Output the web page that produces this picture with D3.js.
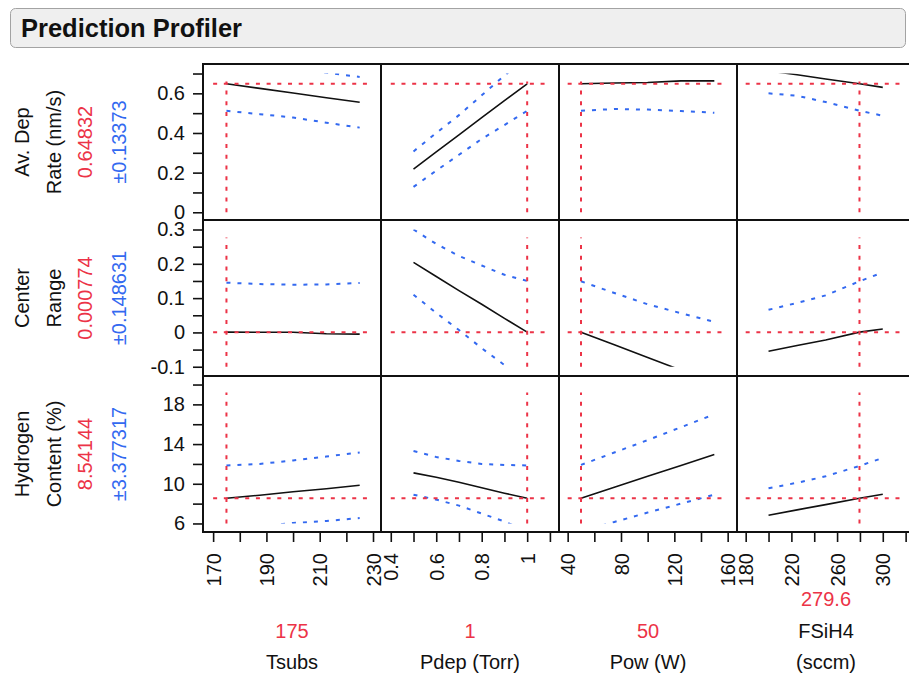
<!DOCTYPE html>
<html lang="en">
<head>
<meta charset="utf-8">
<title>Prediction Profiler</title>
<script src="https://cdn.jsdelivr.net/npm/d3@7"></script>
<style>
  body { margin: 0; background: #fff; }
  svg text { font-family: "Liberation Sans", Arial, Helvetica, sans-serif; }
</style>
</head>
<body>
<svg id="svg"></svg>
<script>
// ---------------------------------------------------- data
// factors (columns)
var factorNames = [["Tsubs"], ["Pdep (Torr)"], ["Pow (W)"], ["FSiH4", "(sccm)"]];
var factorCurrent = [175, 1, 50, 279.6];
var factorCurrentLabel = ["175", "1", "50", "279.6"];
var factorDomain = [[166.2, 233], [0.357, 1.14], [33.5, 167], [172.4, 328.2]];
var factorTickLabels = [[170, 190, 210, 230], [0.4, 0.6, 0.8, 1], [40, 80, 120, 160], [180, 220, 260, 300]];
var factorTicks = [
  [170, 180, 190, 200, 210, 220, 230],
  [0.4, 0.5, 0.6, 0.7, 0.8, 0.9, 1.0, 1.1],
  [40, 60, 80, 100, 120, 140, 160],
  [180, 200, 220, 240, 260, 280, 300, 320]
];

// responses (rows)
var responseNames = [["Av. Dep", "Rate (nm/s)"], ["Center", "Range"], ["Hydrogen", "Content (%)"]];
var responseCurrent = [0.64832, 0.000774, 8.54144];
var responseCurrentLabel = ["0.64832", "0.000774", "8.54144"];
var responseCI = ["\u00b10.13373", "\u00b10.148631", "\u00b13.377317"];
var responseDomain = [[-0.039, 0.748], [-0.127, 0.3277], [5.14, 20.86]];
var responseTickLabels = [[0, 0.2, 0.4, 0.6], [-0.1, 0, 0.1, 0.2, 0.3], [6, 10, 14, 18]];
var responseTicks = [
  [0, 0.1, 0.2, 0.3, 0.4, 0.5, 0.6, 0.7],
  [-0.1, -0.05, 0, 0.05, 0.1, 0.15, 0.2, 0.25, 0.3],
  [6, 8, 10, 12, 14, 16, 18, 20]
];

// factor settings where the profile traces were read
var tsubsGrid = [175, 187.5, 200, 212.5, 225];
var pdepGrid = [0.5, 0.6, 0.7, 0.8, 0.9, 1.0];
var powGrid = [50, 75, 100, 125, 150];
var fsih4Grid = [200, 225, 250, 279.6, 300];
var grids = [tsubsGrid, pdepGrid, powGrid, fsih4Grid];

// Av. Dep Rate: prediction, lower / upper limits (per factor)
var depRatePred = [
  [0.648, 0.625, 0.602, 0.578, 0.555],
  [0.218, 0.305, 0.390, 0.478, 0.563, 0.648],
  [0.648, 0.652, 0.655, 0.663, 0.663],
  [0.713, 0.694, 0.672, 0.648, 0.630]
];
var depRateLower = [
  [0.512, 0.495, 0.478, 0.452, 0.427],
  [0.128, 0.210, 0.290, 0.370, 0.440, 0.512],
  [0.512, 0.521, 0.518, 0.511, 0.502],
  [0.600, 0.588, 0.556, 0.512, 0.487]
];
var depRateUpper = [
  [0.784, 0.755, 0.726, 0.704, 0.683],
  [0.307, 0.400, 0.490, 0.590, 0.690, 0.782],
  [0.784, 0.783, 0.792, 0.815, 0.824],
  [0.826, 0.800, 0.788, 0.784, 0.773]
];

// Center Range
var rangePred = [
  [0.0008, 0.0006, 0.0004, -0.004, -0.005],
  [0.204, 0.163, 0.122, 0.082, 0.041, 0.0008],
  [0.0008, -0.036, -0.073, -0.110, -0.146],
  [-0.055, -0.038, -0.022, 0.0008, 0.010]
];
var rangeLower = [
  [-0.144, -0.140, -0.138, -0.148, -0.154],
  [0.110, 0.057, 0.007, -0.046, -0.095, -0.149],
  [-0.147, -0.187, -0.228, -0.276, -0.323],
  [-0.176, -0.162, -0.152, -0.148, -0.155]
];
var rangeUpper = [
  [0.145, 0.141, 0.139, 0.140, 0.144],
  [0.300, 0.258, 0.223, 0.195, 0.168, 0.150],
  [0.149, 0.115, 0.082, 0.056, 0.031],
  [0.066, 0.086, 0.108, 0.149, 0.175]
];

// Hydrogen Content
var hydroPred = [
  [8.54, 8.85, 9.2, 9.5, 9.85],
  [11.1, 10.65, 10.15, 9.6, 9.05, 8.54],
  [8.54, 9.65, 10.75, 11.85, 12.95],
  [6.83, 7.37, 7.9, 8.54, 8.95]
];
var hydroLower = [
  [5.23, 5.7, 6.05, 6.25, 6.55],
  [8.9, 8.4, 7.8, 7.0, 6.2, 5.2],
  [5.2, 6.15, 7.1, 8.0, 8.9],
  [4.1, 4.64, 5.05, 5.28, 5.3]
];
var hydroUpper = [
  [11.85, 12.0, 12.35, 12.75, 13.15],
  [13.3, 12.7, 12.3, 12.0, 11.9, 11.85],
  [11.9, 13.15, 14.4, 15.7, 17.0],
  [9.55, 10.1, 10.75, 11.8, 12.6]
];

var preds = [depRatePred, rangePred, hydroPred];
var lowers = [depRateLower, rangeLower, hydroLower];
var uppers = [depRateUpper, rangeUpper, hydroUpper];

// ---------------------------------------------------- layout
var W = 909, H = 675;
var gridLeft = 203, gridTop = 64, cellW = 178, cellH = 156;
var RED = "#ec3347", BLUE = "#3369f0";

var svg = d3.select("svg#svg")
    .attr("width", W)
    .attr("height", H);

// - title bar
svg.append("rect")
    .attr("x", 10.5).attr("y", 8.5)
    .attr("width", 895).attr("height", 39)
    .attr("rx", 5)
    .attr("fill", "#efefef")
    .attr("stroke", "#a3a3a3");
svg.append("text")
    .attr("x", 21).attr("y", 37)
    .attr("font-size", 25.5)
    .attr("font-weight", "bold")
    .attr("fill", "#111")
    .text("Prediction Profiler");

var defs = svg.append("defs");

function fmt(v) { return String(+v.toFixed(4)); }

function draw_cell(r, c) {
    var x0 = gridLeft + c * cellW, y0 = gridTop + r * cellH;
    var x = d3.scaleLinear().domain(factorDomain[c]).range([x0, x0 + cellW]);
    var y = d3.scaleLinear().domain(responseDomain[r]).range([y0 + cellH, y0]);
    var yt = responseTicks[r], xt = factorTicks[c];

    var id = "clip-" + r + "-" + c;
    defs.append("clipPath").attr("id", id)
      .append("rect")
        .attr("x", x0).attr("width", cellW)
        .attr("y", y(yt[yt.length - 1]))
        .attr("height", y(yt[0]) - y(yt[yt.length - 1]));

    var g = svg.append("g").attr("clip-path", "url(#" + id + ")");
    var line = d3.line().x(function(d) { return x(d[0]); }).y(function(d) { return y(d[1]); });
    var grid = grids[c];

    [lowers, uppers].forEach(function(src) {
        g.append("path")
            .datum(grid.map(function(v, i) { return [v, src[r][c][i]]; }))
            .attr("d", line)
            .attr("fill", "none")
            .attr("stroke", BLUE)
            .attr("stroke-width", 2)
            .attr("stroke-dasharray", "4,7");
    });
    g.append("path")
        .datum(grid.map(function(v, i) { return [v, preds[r][c][i]]; }))
        .attr("d", line)
        .attr("fill", "none")
        .attr("stroke", "#111")
        .attr("stroke-width", 1.6);

    // - current setting reference lines
    svg.append("line")
        .attr("x1", x(xt[0])).attr("x2", x(xt[xt.length - 1]))
        .attr("y1", y(responseCurrent[r])).attr("y2", y(responseCurrent[r]))
        .attr("stroke", RED).attr("stroke-width", 2)
        .attr("stroke-dasharray", "4,6.7");
    svg.append("line")
        .attr("x1", x(factorCurrent[c])).attr("x2", x(factorCurrent[c]))
        .attr("y1", y(yt[0])).attr("y2", y(yt[yt.length - 1]) + 8)
        .attr("stroke", RED).attr("stroke-width", 2)
        .attr("stroke-dasharray", "4,6.7");

    // - frame
    svg.append("rect")
        .attr("x", x0).attr("y", y0)
        .attr("width", cellW).attr("height", cellH)
        .attr("fill", "none")
        .attr("stroke", "#111")
        .attr("stroke-width", 2);

    // - left axis
    if (c === 0) {
        var ya = svg.append("g")
            .attr("transform", "translate(" + x0 + ",0)")
            .call(d3.axisLeft(y).tickValues(yt).tickSize(10).tickPadding(8)
                .tickFormat(function(d) {
                    return responseTickLabels[r].some(function(t) { return Math.abs(t - d) < 1e-9; }) ? fmt(d) : "";
                }));
        ya.select(".domain").remove();
        ya.selectAll("line").attr("stroke", "#111").attr("stroke-width", 1.6);
        ya.selectAll("text").attr("font-size", 20).attr("fill", "#111")
            .attr("font-family", "'Liberation Sans', Arial, sans-serif");
    }

    // - bottom axis
    if (r === 2) {
        var xa = svg.append("g")
            .attr("transform", "translate(0," + (y0 + cellH) + ")")
            .call(d3.axisBottom(x).tickValues(xt).tickSize(10)
                .tickFormat(function(d) {
                    return factorTickLabels[c].some(function(t) { return Math.abs(t - d) < 1e-9; }) ? fmt(d) : "";
                }));
        xa.select(".domain").remove();
        xa.selectAll("line").attr("stroke", "#111").attr("stroke-width", 1.6);
        xa.selectAll("text")
            .attr("transform", "rotate(-90)")
            .attr("x", -21).attr("y", 0).attr("dy", "0.35em")
            .style("text-anchor", "end")
            .attr("font-size", 20).attr("fill", "#111")
            .attr("font-family", "'Liberation Sans', Arial, sans-serif");
    }
}

for (var r = 0; r < 3; r++) {
    for (var c = 0; c < 4; c++) draw_cell(r, c);
}

// - response labels (rotated, left side)
var labelX = [29, 61, 92, 126];
responseNames.forEach(function(names, r) {
    var cy = gridTop + r * cellH + cellH / 2;
    var lines = [[names[0], "#111"], [names[1], "#111"],
                 [responseCurrentLabel[r], RED], [responseCI[r], BLUE]];
    lines.forEach(function(l, i) {
        svg.append("text")
            .attr("transform", "translate(" + labelX[i] + "," + cy + ") rotate(-90)")
            .attr("text-anchor", "middle")
            .attr("font-size", 20)
            .attr("fill", l[1])
            .text(l[0]);
    });
});

// - factor labels (bottom)
factorNames.forEach(function(names, c) {
    var cx = gridLeft + c * cellW + cellW / 2;
    var lines = [[factorCurrentLabel[c], RED]].concat(names.map(function(n) { return [n, "#111"]; }));
    var n = lines.length;
    lines.forEach(function(l, i) {
        svg.append("text")
            .attr("x", cx)
            .attr("y", 669 - (n - 1 - i) * 31.5)
            .attr("text-anchor", "middle")
            .attr("font-size", 20)
            .attr("fill", l[1])
            .text(l[0]);
    });
});
</script>
</body>
</html>
